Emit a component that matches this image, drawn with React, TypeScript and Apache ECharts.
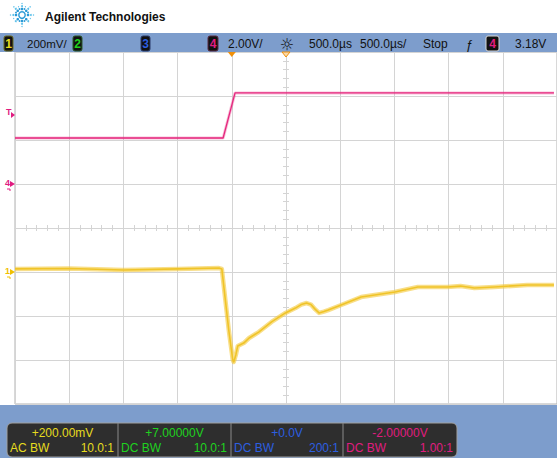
import React, { useEffect, useRef } from 'react';
import * as echarts from 'echarts';

// ---- Data (time in µs, ch1 in mV, ch4 in V) ----
const ch1Times = [-2000, -1495, -1000, -495, -119, -92, -28, 9, 18, 37, 55, 110, 160, 248, 367, 495, 587, 640, 690, 730, 770, 805, 850, 890, 1009, 1193, 1505, 1716, 1991, 2110, 2238, 2422, 2725, 2972];
const ch1Values = [14, 16, 9, 14, 18, 14, -264, -400, -409, -377, -336, -323, -300, -273, -227, -186, -164, -148, -141, -148, -170, -186, -180, -173, -150, -114, -91, -68, -68, -64, -73, -68, -59, -59];
const ch4Times = [-2000, -1000, -80, 30, 1000, 2000, 2972];
const ch4Values = [2.09, 2.09, 2.09, 4.14, 4.14, 4.14, 4.14];

const triggerLevelV = 3.18;
const triggerTimeUs = 0;
const delayUs = 500;

const channelColors = ['#e6dc1e', '#1fd21f', '#2c5fe0', '#e01c80'];
const footerOffsets = ['+200.00mV', '+7.00000V', '+0.0V', '-2.00000V'];
const footerCoupling = ['AC BW', 'DC BW', 'DC BW', 'DC BW'];
const footerProbe = ['10.0:1', '10.0:1', '200:1', '1.00:1'];

const FONT = '"Liberation Sans", Arial, sans-serif';
const GRID = '#d4d4d4';
const BAR = '#7d9dcc';
const YELLOW_TRACE = '#f0c428';
const PINK_TRACE = '#e6287e';

function buildGraphics(chart: any) {
  const px = (v: number) => chart.convertToPixel({ xAxisIndex: 2 }, v) as number;
  const py = (yi: number, v: number) => chart.convertToPixel({ yAxisIndex: yi }, v) as number;
  const els: any[] = [];

  // logo
  const cx = 22, cy = 15;
  els.push({ type: 'circle', shape: { cx, cy, r: 3.2 }, style: { fill: 'none', stroke: '#2a9ad6', lineWidth: 1.4 }, z: 100 });
  for (let k = 0; k < 16; k++) {
    const a = (k * Math.PI) / 8;
    const major = k % 2 === 0;
    const radii = major ? [6, 8.8, 11.5] : [6.5, 9];
    const sizes = major ? [1.3, 1.0, 0.7] : [0.9, 0.6];
    radii.forEach((r, i) => {
      els.push({ type: 'circle', shape: { cx: cx + r * Math.cos(a), cy: cy + r * Math.sin(a), r: sizes[i] }, style: { fill: i === 0 ? '#2a9ad6' : '#5cc0ea' }, z: 100 });
    });
  }
  els.push({ type: 'text', x: 45, y: 17, style: { text: 'Agilent Technologies', fill: '#111', font: `bold 12px ${FONT}`, textVerticalAlign: 'middle' }, z: 100 });

  // status bar
  els.push({ type: 'rect', shape: { x: 0, y: 33, width: 557, height: 19 }, style: { fill: BAR }, z: 100 });
  const badge = (x: number, w: number, label: string, color: string, border: string) => {
    els.push({ type: 'rect', shape: { x, y: 36, width: w, height: 15, r: 2 }, style: { fill: '#111', stroke: border, lineWidth: 1 }, z: 101 });
    els.push({ type: 'text', x: x + w / 2, y: 44, style: { text: label, fill: color, font: `bold 12px ${FONT}`, textAlign: 'center', textVerticalAlign: 'middle' }, z: 102 });
  };
  badge(4, 9, '1', channelColors[0], '#6b6b20');
  badge(73, 9, '2', channelColors[1], '#2a5a2a');
  badge(141, 9, '3', channelColors[2], '#2a3a6a');
  badge(208, 10, '4', channelColors[3], '#5a2a40');
  badge(486, 13, '4', channelColors[3], '#d8d8d8');
  const st = (x: number, t: string, size = 12) => {
    els.push({ type: 'text', x, y: 44, style: { text: t, fill: '#111', font: `${size}px ${FONT}`, textVerticalAlign: 'middle' }, z: 101 });
  };
  st(27, '200mV/', 11.5);
  st(228, '2.00V/');
  els.push({ type: 'text', x: 287, y: 44, style: { text: '☼', fill: '#111', font: `16px "DejaVu Sans", sans-serif`, textAlign: 'center', textVerticalAlign: 'middle' }, z: 101 });
  st(309, '500.0µs');
  st(360, '500.0µs/');
  st(423, 'Stop');
  st(466, 'ƒ', 13);
  st(515, '3.18V');

  // trigger / delay markers
  const tx = px(triggerTimeUs);
  els.push({ type: 'polygon', shape: { points: [[tx - 4, 52], [tx + 4, 52], [tx, 57]] }, style: { fill: '#f0900a' }, z: 101 });
  const dx = px(delayUs);
  els.push({ type: 'polygon', shape: { points: [[dx - 4, 52], [dx + 4, 52], [dx, 57]] }, style: { fill: '#fbd9a8', stroke: '#f0900a', lineWidth: 1 }, z: 101 });

  // left markers
  const ty = py(3, triggerLevelV);
  els.push({ type: 'text', x: 6, y: ty - 2, style: { text: 'T', fill: channelColors[3], font: `bold 9px ${FONT}`, textVerticalAlign: 'middle' }, z: 101 });
  els.push({ type: 'polygon', shape: { points: [[11, ty - 2], [15, ty + 1], [11, ty + 4]] }, style: { fill: channelColors[3] }, z: 101 });
  const marker = (y: number, label: string, color: string) => {
    els.push({ type: 'text', x: 5, y: y - 1, style: { text: label, fill: color, font: `bold 9px ${FONT}`, textVerticalAlign: 'middle' }, z: 101 });
    els.push({ type: 'polygon', shape: { points: [[10, y - 3], [15, y], [10, y + 3]] }, style: { fill: color }, z: 101 });
    els.push({ type: 'polyline', shape: { points: [[7, y + 5], [10, y + 5], [10, y + 7]] }, style: { stroke: color, lineWidth: 1, fill: 'none' }, z: 101 });
  };
  marker(py(3, 0), '4', channelColors[3]);
  marker(py(2, 0), '1', '#f0c000');

  // footer
  els.push({ type: 'rect', shape: { x: 0, y: 405, width: 557, height: 53 }, style: { fill: BAR }, z: 100 });
  els.push({ type: 'rect', shape: { x: 7, y: 423, width: 450, height: 34, r: 5 }, style: { fill: '#2e2e2e', stroke: '#a0a0a0', lineWidth: 1 }, z: 101 });
  const cells = [7, 118, 231, 343, 457];
  [118, 231, 343].forEach((x) => {
    els.push({ type: 'line', shape: { x1: x, y1: 423, x2: x, y2: 457 }, style: { stroke: '#8a8a8a', lineWidth: 1 }, z: 102 });
  });
  for (let i = 0; i < 4; i++) {
    const l = cells[i], r = cells[i + 1];
    const c = channelColors[i];
    els.push({ type: 'text', x: (l + r) / 2, y: 433, style: { text: footerOffsets[i], fill: c, font: `12px ${FONT}`, textAlign: 'center', textVerticalAlign: 'middle' }, z: 103 });
    els.push({ type: 'text', x: l + 3, y: 448, style: { text: footerCoupling[i], fill: c, font: `12px ${FONT}`, textVerticalAlign: 'middle' }, z: 103 });
    els.push({ type: 'text', x: r - 4, y: 448, style: { text: footerProbe[i], fill: c, font: `12px ${FONT}`, textAlign: 'right', textVerticalAlign: 'middle' }, z: 103 });
  }
  return els;
}

export default function App() {
  const ref = useRef<HTMLDivElement>(null);
  useEffect(() => {
    if (!ref.current) return;
    const chart = echarts.init(ref.current, undefined, { renderer: 'svg' });
    const centerAxis = (position: string) => ({
      type: 'value', min: -5, max: 5, interval: 1, position,
      axisLine: { show: true, onZero: true, onZeroAxisIndex: 0, lineStyle: { color: GRID, width: 1 } },
      axisTick: { show: true, length: 3, lineStyle: { color: GRID } },
      minorTick: { show: true, splitNumber: 5, length: 3, lineStyle: { color: GRID } },
      axisLabel: { show: false },
      splitLine: { show: position === 'bottom', lineStyle: { color: GRID, width: 1 } },
    });
    const centerYAxis = (position: string) => ({
      type: 'value', min: -4, max: 4, interval: 1, position,
      axisLine: { show: true, onZero: true, onZeroAxisIndex: 0, lineStyle: { color: GRID, width: 1 } },
      axisTick: { show: true, length: 3, lineStyle: { color: GRID } },
      minorTick: { show: true, splitNumber: 5, length: 3, lineStyle: { color: GRID } },
      axisLabel: { show: false },
      splitLine: { show: position === 'left', lineStyle: { color: GRID, width: 1 } },
    });
    const ch1Data = ch1Times.map((t, i) => [t, ch1Values[i]]);
    const ch4Data = ch4Times.map((t, i) => [t, ch4Values[i]]);
    chart.setOption({
      animation: false,
      backgroundColor: '#ffffff',
      grid: { left: 15, top: 52, width: 545, height: 352, show: true, borderColor: '#b0b0b0', borderWidth: 1, backgroundColor: 'transparent' },
      xAxis: [
        centerAxis('bottom'),
        centerAxis('top'),
        { type: 'value', min: -2000, max: 3000, interval: 500, show: false },
      ],
      yAxis: [
        centerYAxis('left'),
        centerYAxis('right'),
        { type: 'value', min: -600, max: 1000, interval: 200, show: false },
        { type: 'value', min: -10, max: 6, interval: 2, show: false },
      ],
      series: [
        {
          name: 'ch4 band', type: 'line', xAxisIndex: 2, yAxisIndex: 3, symbol: 'none', silent: true, z: 3,
          data: ch4Data,
          lineStyle: { color: PINK_TRACE, width: 3, opacity: 0.3 },
        },
        {
          name: 'ch4', type: 'line', xAxisIndex: 2, yAxisIndex: 3, symbol: 'none', silent: true, z: 3,
          data: ch4Data,
          lineStyle: { color: PINK_TRACE, width: 1.3 },
        },
        {
          name: 'ch1 band', type: 'line', xAxisIndex: 2, yAxisIndex: 2, symbol: 'none', silent: true, z: 4,
          data: ch1Data,
          lineStyle: { color: '#f4c838', width: 4.5, opacity: 0.6, join: 'round' },
        },
        {
          name: 'ch1', type: 'line', xAxisIndex: 2, yAxisIndex: 2, symbol: 'none', silent: true, z: 4,
          data: ch1Data,
          lineStyle: { color: YELLOW_TRACE, width: 1.6, join: 'round' },
        },
      ],
    });
    chart.setOption({ graphic: buildGraphics(chart) });
    return () => chart.dispose();
  }, []);
  return <div ref={ref} style={{ position: 'fixed', left: 0, top: 0, width: 557, height: 458, background: '#fff' }} />;
}
